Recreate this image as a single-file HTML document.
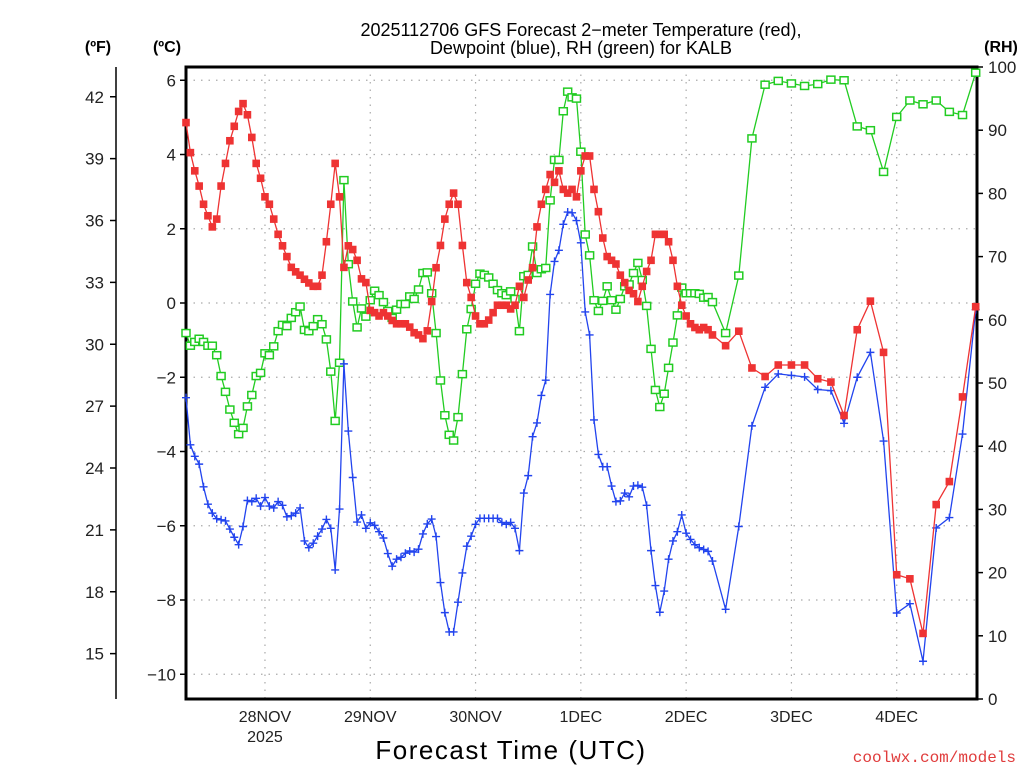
<!DOCTYPE html>
<html><head><meta charset="utf-8"><style>
html,body{margin:0;padding:0;background:#fff;}
svg{display:block;font-family:"Liberation Sans",sans-serif;}
</style></head><body>
<svg id="chart" width="1024" height="768" viewBox="0 0 1024 768" xmlns="http://www.w3.org/2000/svg">
<text x="581" y="36" font-size="18" text-anchor="middle" fill="#000">2025112706 GFS Forecast 2−meter Temperature (red),</text>
<text x="581" y="54" font-size="18" text-anchor="middle" fill="#000">Dewpoint (blue), RH (green) for KALB</text>
<text x="98" y="52" font-size="16" font-weight="bold" text-anchor="middle">(ºF)</text>
<text x="167" y="52" font-size="16" font-weight="bold" text-anchor="middle">(ºC)</text>
<text x="1001" y="52" font-size="16" font-weight="bold" text-anchor="middle">(RH)</text>
<text x="511" y="759" font-size="26" text-anchor="middle" letter-spacing="1.5">Forecast Time (UTC)</text>
<text x="1016" y="762" font-size="16" text-anchor="end" fill="#e03c3c" font-family="Liberation Mono, monospace">coolwx.com/models</text>
<g id="grid"></g><g id="axes"></g><g id="series"></g>
</svg>
<script>
const dayLabels=["28NOV","29NOV","30NOV","1DEC","2DEC","3DEC","4DEC"];
const celsiusTicks=[-10,-8,-6,-4,-2,0,2,4,6];
const fahrenheitTicks=[15,18,21,24,27,30,33,36,39,42];
const rhTicks=[0,10,20,30,40,50,60,70,80,90,100];
const tempC=[4.86,4.05,3.56,3.15,2.66,2.35,2.05,2.26,3.15,3.76,4.37,4.76,5.16,5.37,5.07,4.46,3.76,3.36,2.86,2.66,2.26,1.85,1.54,1.25,0.96,0.84,0.75,0.64,0.54,0.45,0.45,0.75,1.65,2.66,3.76,2.86,0.96,1.54,1.44,1.15,0.65,0.55,-0.2,-0.26,-0.35,-0.26,-0.35,-0.47,-0.56,
-0.56,-0.56,-0.65,-0.8,-0.86,-0.96,-0.75,0.04,0.95,1.55,2.26,2.66,2.96,2.66,1.55,0.55,0.15,-0.35,-0.56,-0.56,-0.46,-0.26,-0.06,-0.06,-0.06,-0.16,-0.06,0.45,0.15,0.62,0.95,2.05,2.66,3.06,3.46,3.25,3.56,3.06,2.96,3.06,2.86,3.56,3.96,3.96,3.06,2.46,1.75,1.25,
1.15,1.05,0.75,0.55,0.34,0.25,0.04,0.45,0.85,1.15,1.85,1.85,1.85,1.65,1.15,0.45,-0.06,-0.35,-0.56,-0.66,-0.72,-0.66,-0.72,-0.86,
-1.15,-0.76,-1.75,-1.98,-1.67,-1.67,-1.67,-2.04,-2.13,-3.03,-0.72,0.05,-1.33,-7.32,-7.43,-8.9,-5.43,-4.81,-2.53,-0.1];
const dewC=[-2.55,-3.82,-4.13,-4.34,-4.95,-5.42,-5.66,-5.81,-5.84,-5.87,-6.09,-6.31,-6.51,-6.02,-5.32,-5.35,-5.26,-5.47,-5.24,-5.47,-5.52,-5.35,-5.45,-5.76,-5.73,-5.66,-5.52,-6.41,-6.59,-6.47,-6.28,-6.09,-5.83,-6.07,-7.19,-5.55,-1.64,-3.45,-4.7,-5.9,-5.71,-6.07,-5.92,-5.99,-6.16,-6.33,-6.75,-7.09,-6.9,
-6.85,-6.74,-6.68,-6.71,-6.63,-6.22,-5.95,-5.82,-6.29,-7.53,-8.34,-8.86,-8.86,-8.06,-7.27,-6.55,-6.28,-5.96,-5.8,-5.8,-5.8,-5.8,-5.8,-5.91,-5.96,-5.91,-6.07,-6.67,-5.12,-4.65,-3.6,-3.23,-2.49,-2.08,0.23,1.12,1.42,2.12,2.45,2.43,2.22,1.62,-0.24,-0.86,-3.15,-4.08,-4.41,-4.41,
-4.93,-5.35,-5.33,-5.12,-5.22,-4.93,-4.91,-4.96,-5.45,-6.67,-7.61,-8.33,-7.76,-6.9,-6.41,-6.16,-5.71,-6.2,-6.37,-6.51,-6.59,-6.64,-6.69,-6.95,
-8.25,-6.02,-3.31,-2.27,-1.91,-1.95,-1.99,-2.33,-2.36,-3.24,-2.0,-1.33,-3.72,-8.35,-8.1,-9.65,-6.06,-5.78,-3.53,-0.18];
const rhPct=[57.9,55.9,56.5,57,56.5,55.9,55.9,54.4,51.1,48.6,45.8,43.7,41.9,42.9,46.3,48.1,51.1,51.6,54.7,54.4,55.8,58.2,59.2,59,60.3,61.2,62.1,58.4,58.2,59,60.1,59.3,56.9,51.8,44,53.2,82.1,68.8,62.9,58.8,61.8,60.5,63.1,64.6,63.9,62.8,61.4,60.3,61.6,
62.5,62.5,63.7,63.3,64.8,67.4,67.5,64.2,57.9,50.4,44.9,41.8,40.9,44.6,51.4,58.5,61.7,65.7,67.3,67.1,66.7,65.7,64.7,64.2,63.9,64.5,63.3,58.2,66.9,67.1,71.6,67.4,68,68.2,78.9,85.3,85.3,93,96.1,95.2,95,86.6,73.5,70.2,63.1,61.4,63,65.3,
63.1,61.6,63.3,65.3,65.6,67.4,69,66.3,62.2,55.4,48.9,46.2,48.3,52.4,56.4,60.7,65.1,64.2,64.2,64.2,64.1,63.5,63.6,62.8,
57.9,67,88.7,97.2,97.8,97.4,97,97.3,98,97.9,90.6,90,83.4,92.1,94.7,94.1,94.7,92.9,92.4,99.1];
// forecast hours since 27NOV 06Z: hourly to 120, then every 3 h to 180
const hours=[];
for(let h=0;h<=120;h++)hours.push(h);
for(let h=123;h<=180;h+=3)hours.push(h);

const NS="http://www.w3.org/2000/svg";
const L=186,R=977,T=67,B=699;
const xOf=h=>L+(R-L)*h/180.3;
const yC=c=>303-37.125*c;
const yRH=p=>B-(B-T)*p/100;
const yF=f=>yC((f-32)*5/9);
function mk(tag,attrs,parent,txt){const e=document.createElementNS(NS,tag);for(const k in attrs)e.setAttribute(k,attrs[k]);if(txt!==undefined)e.textContent=txt;parent.appendChild(e);return e;}
const grid=document.getElementById('grid'),axes=document.getElementById('axes'),ser=document.getElementById('series');

celsiusTicks.forEach(c=>{
  const y=yC(c);
  const g=mk('line',{x1:L,x2:R,y1:y,y2:y,stroke:'#aaa','stroke-width':1.2,'stroke-dasharray':'1.5,6'},grid);
  
  
  const t=mk('line',{x1:L-6,x2:L,y1:y,y2:y,stroke:'#000','stroke-width':1.5},axes);
  
  
  const lb=mk('text',{x:L-10,y:y+6,'font-size':17,'text-anchor':'end',fill:'#222'},axes,(c<0?'−':'')+Math.abs(c));
  
  
});
dayLabels.forEach((d,i)=>{
  const x=xOf(18+24*i);
  const g=mk('line',{x1:x,x2:x,y1:T,y2:B,stroke:'#aaa','stroke-width':1.2,'stroke-dasharray':'1.5,6'},grid);
  
  
  const lb=mk('text',{x:x,y:722,'font-size':16,'text-anchor':'middle',fill:'#222'},axes,d);
  
  
  if(i===0){const yr=mk('text',{x:x,y:742,'font-size':16,'text-anchor':'middle',fill:'#222'},axes,'2025');
    
    }
});
const fAx=mk('line',{x1:116,x2:116,y1:T,y2:B,stroke:'#000','stroke-width':1.5},axes);


fahrenheitTicks.forEach(f=>{
  const y=yF(f);
  const t=mk('line',{x1:110,x2:116,y1:y,y2:y,stroke:'#000','stroke-width':1.5},axes);
  
  
  const lb=mk('text',{x:104,y:y+6,'font-size':17,'text-anchor':'end',fill:'#222'},axes,String(f));
  
  
});
rhTicks.forEach(p=>{
  const y=yRH(p);
  const t=mk('line',{x1:R,x2:R+6,y1:y,y2:y,stroke:'#000','stroke-width':1.5},axes);
  
  
  const lb=mk('text',{x:R+11,y:y+6,'font-size':17,'text-anchor':'start',fill:'#222'},axes,String(p));
  
  
});
const frame=mk('rect',{x:L,y:T,width:R-L,height:B-T,fill:'none',stroke:'#000','stroke-width':3},axes);



function series(vals,yfn,color,kind,name){
  const n=Math.min(vals.length,hours.length);
  const pts=[];for(let i=0;i<n;i++)pts.push(xOf(hours[i]).toFixed(1)+','+yfn(vals[i]).toFixed(1));
  const pl=mk('polyline',{points:pts.join(' '),fill:'none',stroke:color,'stroke-width':1.3},ser);
  
  
  for(let i=0;i<n;i++){
    const x=xOf(hours[i]),y=yfn(vals[i]);let m;
    if(kind==='filled')m=mk('rect',{x:x-3.8,y:y-3.8,width:7.6,height:7.6,fill:color},ser);
    else if(kind==='hollow')m=mk('rect',{x:x-4,y:y-3.5,width:8,height:7,fill:'#fff',stroke:color,'stroke-width':1.5},ser);
    else m=mk('path',{d:`M${x-4} ${y}H${x+4}M${x} ${y-4}V${y+4}`,stroke:color,'stroke-width':1.4,fill:'none'},ser);
    
    
  }
}
series(rhPct,yRH,'#22cc22','hollow','rh');
series(dewC,yC,'#2244ee','plus','dewpoint');
series(tempC,yC,'#ee3333','filled','temperature');
</script>
</body></html>
